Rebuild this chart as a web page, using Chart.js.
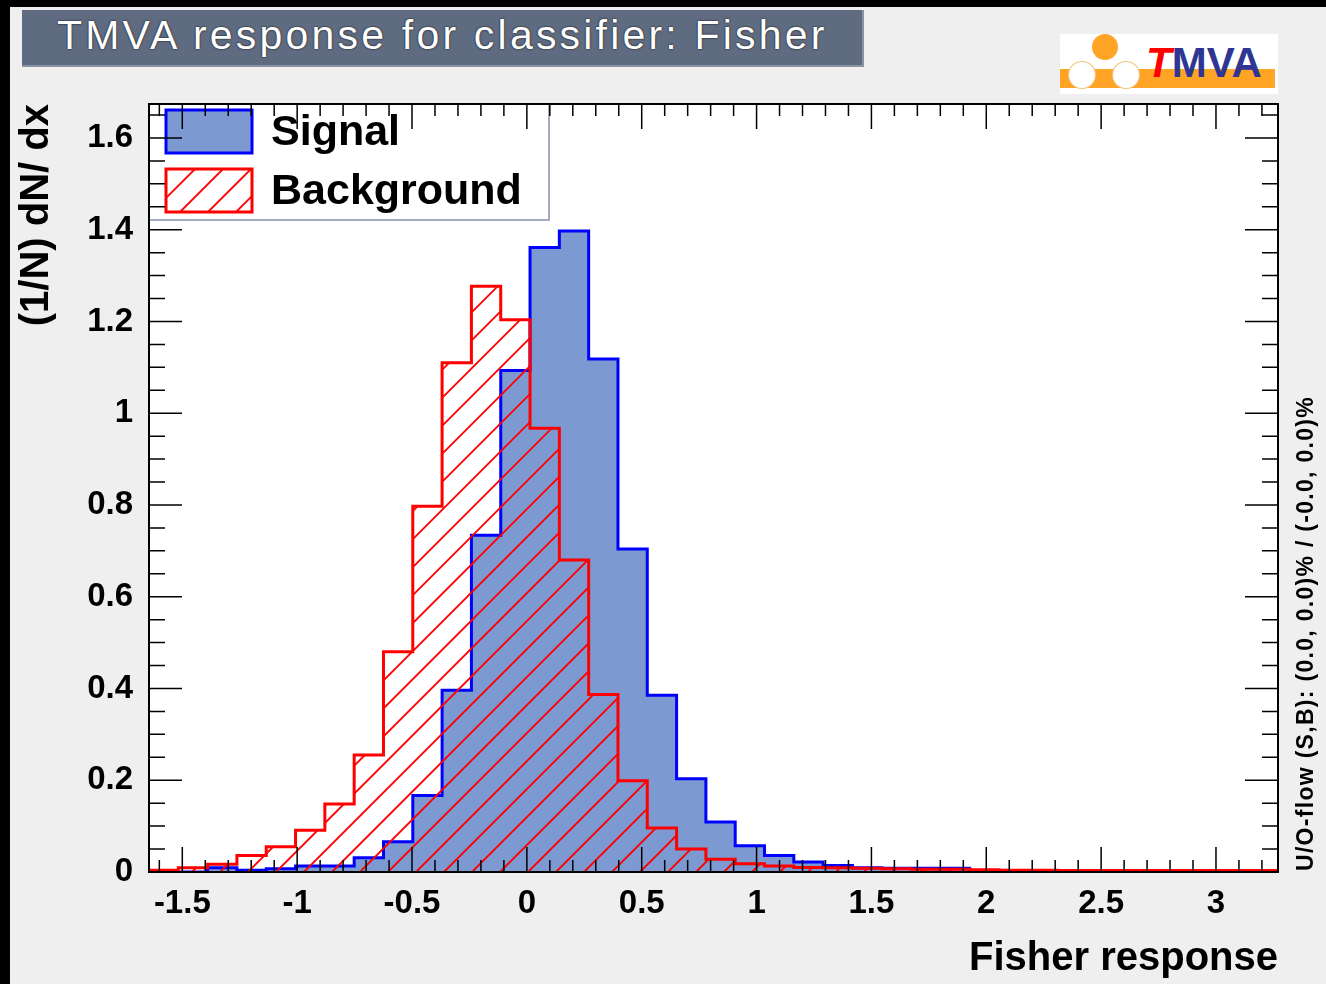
<!DOCTYPE html>
<html>
<head>
<meta charset="utf-8">
<script src="https://cdn.jsdelivr.net/npm/chart.js@4.4.0/dist/chart.umd.min.js"></script>
<style>
  html, body { margin: 0; padding: 0; width: 1326px; height: 984px; overflow: hidden; background: #000; }
  #pad { position: absolute; left: 10px; top: 7px; width: 1316px; height: 977px; background: #efefef; }
  #chart { position: absolute; left: 0; top: 0; }
  #title {
    position: absolute; left: 22px; top: 10px; width: 842px; height: 57px; box-sizing: border-box;
    background: #5f6b80; border-bottom: 2px solid #8a93a3; border-right: 2px solid #8a93a3;
    color: #fff; font: 41px "Liberation Sans", Arial, sans-serif; line-height: 50px;
    letter-spacing: 3.2px; padding-left: 35px; white-space: nowrap;
    text-shadow: 0 0 2px #000;
  }
  #logo { position: absolute; left: 1060px; top: 34px; width: 218px; height: 60px; background: #fff; }
  #logo .bar { position: absolute; left: 0; top: 35px; width: 215px; height: 19px; background: #ffa424; }
  #logo .dot { position: absolute; width: 26px; height: 26px; border-radius: 50%; }
  #logo .txt { position: absolute; left: 86px; top: 8px; font: bold 42px "Liberation Sans", Arial, sans-serif; line-height: 42px; color: #2e3592; }
  #logo .txt i { color: #ff0000; }
  #uoflow {
    position: absolute; left: 1293px; top: 871px; transform-origin: 0 0; transform: rotate(-90deg);
    font: bold 23px "Liberation Sans", Arial, sans-serif; line-height: 24px; letter-spacing: 1.3px;
    white-space: nowrap; color: #000;
  }
</style>
</head>
<body>
<div id="pad"></div>
<canvas id="chart" width="1326" height="984"></canvas>
<div id="title">TMVA response for classifier: Fisher</div>
<div id="logo">
  <div class="bar"></div>
  <div class="dot" style="left:32px; top:0px; background:#ffa424;"></div>
  <div class="dot" style="left:9px; top:28px; background:#fff; box-shadow:0 0 0 1px #f3c27a;"></div>
  <div class="dot" style="left:53px; top:28px; background:#fff; box-shadow:0 0 0 1px #f3c27a;"></div>
  <div class="txt"><i>T</i>MVA</div>
</div>
<div id="uoflow">U/O-flow (S,B): (0.0, 0.0)% / (-0.0, 0.0)%</div>
<script>
// bin edges of the Fisher response histograms (40 edges, 39 visible bins)
const binEdges = [
  -1.645, -1.5174, -1.3898, -1.2622, -1.1346, -1.007, -0.8794, -0.7518, -0.6242, -0.4966,
  -0.369, -0.2414, -0.1138, 0.0138, 0.1414, 0.269, 0.3966, 0.5242, 0.6518, 0.7794,
  0.907, 1.0346, 1.1622, 1.2898, 1.4174, 1.545, 1.6726, 1.8002, 1.9278, 2.0554,
  2.183, 2.3106, 2.4382, 2.5658, 2.6934, 2.821, 2.9486, 3.0762, 3.2038, 3.3314
];

// (1/N) dN/dx per bin
const signalValues = [
  0, 0, 0.009, 0.004, 0.007, 0.013, 0.013, 0.031, 0.066, 0.167,
  0.396, 0.734, 1.093, 1.361, 1.397, 1.118, 0.704, 0.385, 0.203, 0.109,
  0.057, 0.036, 0.022, 0.014, 0.009, 0.008, 0.008, 0.008, 0, 0,
  0, 0, 0, 0, 0, 0, 0, 0, 0
];
const backgroundValues = [
  0.004, 0.009, 0.017, 0.036, 0.055, 0.091, 0.148, 0.255, 0.48, 0.797,
  1.11, 1.277, 1.204, 0.967, 0.68, 0.387, 0.199, 0.096, 0.05, 0.028,
  0.018, 0.013, 0.01, 0.009, 0.008, 0.007, 0.006, 0.006, 0.005, 0.004,
  0.004, 0.003, 0.003, 0.003, 0.003, 0.003, 0.003, 0.003, 0.003
];

const xTickValues = [-1.5, -1, -0.5, 0, 0.5, 1, 1.5, 2, 2.5, 3];
const yTickValues = [0, 0.2, 0.4, 0.6, 0.8, 1, 1.2, 1.4, 1.6];

const xMin = -1.645, xMax = 3.27, yMax = 1.674;
const fontFamily = '"Liberation Sans", Arial, Helvetica, sans-serif';
const HATCH_STEP = 28;

// histogram outline: one point per left bin edge, plus the closing right edge
function histPoints(vals) {
  const pts = vals.map((v, i) => ({ x: binEdges[i], y: v }));
  pts.push({ x: binEdges[vals.length], y: vals[vals.length - 1] });
  return pts;
}

// "/" hatch lines (ROOT fill style 3554) inside the current clip
function strokeHatch(ctx, colour, l, t, r, b) {
  ctx.strokeStyle = colour;
  ctx.lineWidth = 1.8;
  ctx.beginPath();
  const start = Math.floor((l + t) / HATCH_STEP) * HATCH_STEP;
  for (let c = start; c <= r + b; c += HATCH_STEP) {
    ctx.moveTo(c - b, b);
    ctx.lineTo(c - t, t);
  }
  ctx.stroke();
}

// hatch fill for datasets flagged with `hatch`, clipped to the stepped area
const hatchFill = {
  id: 'hatchFill',
  beforeDatasetDraw(chart, args) {
    const d = chart.data.datasets[args.index];
    if (!d.hatch) return;
    const { ctx, chartArea: a } = chart;
    const pts = args.meta.data;
    const y0 = chart.scales.y.getPixelForValue(0);
    ctx.save();
    ctx.beginPath();
    ctx.rect(a.left, a.top, a.width, a.height);
    ctx.clip();
    ctx.beginPath();
    ctx.moveTo(pts[0].x, y0);
    for (let i = 0; i < pts.length; i++) {
      ctx.lineTo(pts[i].x, pts[i].y);
      if (i + 1 < pts.length) ctx.lineTo(pts[i + 1].x, pts[i].y);
    }
    ctx.lineTo(pts[pts.length - 1].x, y0);
    ctx.closePath();
    ctx.clip();
    strokeHatch(ctx, d.hatch, a.left, a.top, a.right, a.bottom);
    ctx.restore();
  }
};

// TLegend-like box in the upper left corner of the frame
const rootLegend = {
  id: 'rootLegend',
  afterDatasetsDraw(chart) {
    const { ctx, chartArea: a } = chart;
    const ds = chart.data.datasets;
    ctx.save();
    ctx.fillStyle = '#fff';
    ctx.fillRect(a.left, a.top, 549 - a.left, 220 - a.top);
    ctx.strokeStyle = '#a3adbf';
    ctx.lineWidth = 2;
    ctx.beginPath();
    ctx.moveTo(a.left, 220);
    ctx.lineTo(549, 220);
    ctx.lineTo(549, a.top);
    ctx.stroke();

    ctx.font = 'bold 43px ' + fontFamily;
    ctx.textBaseline = 'middle';
    ds.forEach((d, i) => {
      const top = 110 + i * 59;
      if (d.hatch) {
        ctx.save();
        ctx.beginPath();
        ctx.rect(166, top, 86, 43);
        ctx.clip();
        strokeHatch(ctx, d.hatch, 166, top, 252, top + 43);
        ctx.restore();
      } else {
        ctx.fillStyle = d.backgroundColor;
        ctx.fillRect(166, top, 86, 43);
      }
      ctx.strokeStyle = d.borderColor;
      ctx.lineWidth = 3;
      ctx.strokeRect(166, top, 86, 43);
      ctx.fillStyle = '#000';
      ctx.fillText(d.label, 271, top + 23);
    });
    ctx.restore();
  }
};

// white pad, frame and ROOT-like inner ticks on all four sides
const rootFrame = {
  id: 'rootFrame',
  beforeDraw(chart) {
    const { ctx, chartArea: a } = chart;
    ctx.save();
    ctx.fillStyle = '#fff';
    ctx.fillRect(a.left, a.top, a.width, a.height);
    ctx.restore();
  },
  afterDraw(chart) {
    const { ctx, chartArea: a, scales: { x, y } } = chart;
    ctx.save();
    ctx.strokeStyle = '#000';
    ctx.lineWidth = 1.5;
    ctx.beginPath();
    for (let i = -16; i <= 32; i++) {
      const px = x.getPixelForValue(i / 10);
      if (px < a.left || px > a.right) continue;
      const len = i % 5 === 0 ? 25 : 12;
      ctx.moveTo(px, a.bottom); ctx.lineTo(px, a.bottom - len);
      ctx.moveTo(px, a.top); ctx.lineTo(px, a.top + len);
    }
    for (let i = 0; i <= 33; i++) {
      const py = y.getPixelForValue(i * 0.05);
      if (py < a.top) continue;
      const len = i % 4 === 0 ? 33 : 16;
      ctx.moveTo(a.left, py); ctx.lineTo(a.left + len, py);
      ctx.moveTo(a.right, py); ctx.lineTo(a.right - len, py);
    }
    ctx.stroke();
    ctx.lineWidth = 2;
    ctx.strokeRect(a.left, a.top, a.width, a.height);
    ctx.restore();
  }
};

const ctx = document.getElementById('chart').getContext('2d');
new Chart(ctx, {
  type: 'line',
  data: {
    datasets: [
      {
        label: 'Signal',
        data: histPoints(signalValues),
        stepped: 'before',
        borderColor: '#0000ff',
        backgroundColor: '#7d99d1',
        borderWidth: 3,
        fill: 'origin',
        pointRadius: 0,
        order: 1,
        clip: 0
      },
      {
        label: 'Background',
        data: histPoints(backgroundValues),
        stepped: 'before',
        borderColor: '#ff0000',
        backgroundColor: 'rgba(0,0,0,0)',
        hatch: '#ff0000',
        borderWidth: 3,
        fill: false,
        pointRadius: 0,
        order: 0,
        clip: 0
      }
    ]
  },
  options: {
    responsive: false,
    animation: false,
    events: [],
    layout: { padding: { top: 104, right: 48, left: 0, bottom: 0 } },
    plugins: {
      tooltip: { enabled: false },
      legend: { display: false }
    },
    scales: {
      x: {
        type: 'linear',
        min: xMin,
        max: xMax,
        afterFit: s => { s.height = 112; },
        afterBuildTicks: s => { s.ticks = xTickValues.map(v => ({ value: v })); },
        grid: { display: false, drawTicks: false },
        border: { display: false },
        ticks: {
          padding: 12,
          color: '#000',
          maxRotation: 0,
          font: { family: fontFamily, size: 33, weight: 'bold' },
          callback: v => String(+v.toFixed(2))
        },
        title: {
          display: true,
          text: 'Fisher response',
          align: 'end',
          color: '#000',
          font: { family: fontFamily, size: 40, weight: 'bold' },
          padding: { top: 0, bottom: 1 }
        }
      },
      y: {
        min: 0,
        max: yMax,
        afterFit: s => { s.width = 149; },
        afterBuildTicks: s => { s.ticks = yTickValues.map(v => ({ value: v })); },
        grid: { display: false, drawTicks: false },
        border: { display: false },
        ticks: {
          padding: 16,
          color: '#000',
          font: { family: fontFamily, size: 33, weight: 'bold' },
          callback: v => String(+v.toFixed(2))
        },
        title: {
          display: true,
          text: '(1/N) dN/ dx',
          align: 'end',
          color: '#000',
          font: { family: fontFamily, size: 40, weight: 'bold' },
          padding: { top: 13, bottom: 0 }
        }
      }
    }
  },
  plugins: [hatchFill, rootLegend, rootFrame]
});
</script>
</body>
</html>
